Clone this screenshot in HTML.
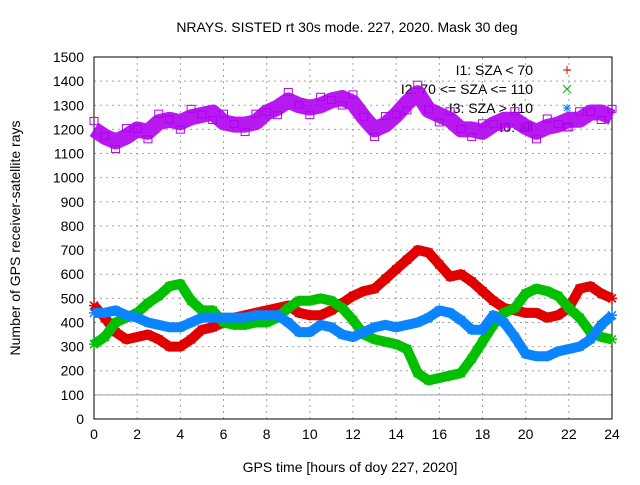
<!DOCTYPE html>
<html><head><meta charset="utf-8"><style>
body{margin:0;background:#fff}
svg{font-family:"Liberation Sans",sans-serif;font-size:14px}
</style></head><body>
<svg id="c" width="640" height="480">
<text x="347" y="32" text-anchor="middle">NRAYS. SISTED rt 30s mode. 227, 2020. Mask 30 deg</text>
<text x="350" y="472" text-anchor="middle">GPS time [hours of doy 227, 2020]</text>
<text x="20" y="238" text-anchor="middle" transform="rotate(-90 20 238)">Number of GPS receiver-satellite rays</text>
<g id="grid"></g><g id="axes"></g><g id="legend"></g><g id="marks"></g>
</svg>
<script>
const hours=[0,0.5,1,1.5,2,2.5,3,3.5,4,4.5,5,5.5,6,6.5,7,7.5,8,8.5,9,9.5,10,10.5,11,11.5,12,12.5,13,13.5,14,14.5,15,15.5,16,16.5,17,17.5,18,18.5,19,19.5,20,20.5,21,21.5,22,22.5,23,23.5,24];
const totalVals=[1200,1170,1150,1170,1200,1190,1230,1240,1230,1250,1260,1270,1230,1220,1220,1230,1270,1290,1320,1300,1290,1300,1320,1330,1310,1250,1200,1220,1260,1310,1350,1280,1260,1240,1200,1200,1190,1220,1240,1240,1210,1190,1210,1220,1240,1240,1270,1270,1250];
const redVals=[470,420,360,330,340,350,330,300,300,330,370,380,400,420,430,440,450,460,470,440,430,430,450,480,510,530,540,580,620,660,700,690,640,590,600,570,530,490,460,450,440,440,420,430,460,540,550,520,500];
const greenVals=[310,340,400,420,440,480,510,550,560,490,450,450,400,390,390,400,400,420,460,490,490,500,490,460,410,350,330,320,310,290,190,160,170,180,190,250,320,390,440,460,520,540,530,510,460,420,360,340,330];
const blueVals=[440,440,450,430,420,400,390,380,380,400,420,420,420,420,420,430,430,430,400,360,360,390,380,350,340,360,380,390,380,390,400,420,450,440,410,370,370,430,400,340,270,260,260,280,290,300,330,390,430];
const xTicks=[0,2,4,6,8,10,12,14,16,18,20,22,24];
const yTicks=[0,100,200,300,400,500,600,700,800,900,1000,1100,1200,1300,1400,1500];
const X0=94,X1=612,Y0=419,Y1=57;
const xs=h=>X0+(X1-X0)*h/24, ys=v=>Y0-(Y0-Y1)*v/1500;
const NS="http://www.w3.org/2000/svg";
function mk(p,t,a){const e=document.createElementNS(NS,t);for(const k in a)e.setAttribute(k,a[k]);p.appendChild(e);return e;}
const grid=document.getElementById('grid'),axes=document.getElementById('axes'),marks=document.getElementById('marks'),legend=document.getElementById('legend');
xTicks.forEach(t=>{const l=mk(grid,'line',{x1:xs(t),x2:xs(t),y1:Y0,y2:Y1,stroke:'#a0a0a0','stroke-dasharray':'2,4'});

const tx=mk(axes,'text',{x:xs(t),y:Y0+20,'text-anchor':'middle'});tx.textContent=t;
});
yTicks.forEach(t=>{const l=mk(grid,'line',{x1:X0,x2:X1,y1:ys(t),y2:ys(t),stroke:'#a0a0a0','stroke-dasharray':'2,4'});

const tx=mk(axes,'text',{x:X0-10,y:ys(t)+5,'text-anchor':'end'});tx.textContent=t;
});
const ref=mk(axes,'line',{x1:X0,x2:X1,y1:ys(100),y2:ys(100),stroke:'#a0a0a0'});

const fr=mk(axes,'rect',{x:X0,y:Y1,width:X1-X0,height:Y0-Y1,fill:'none',stroke:'#000'});

const leg=[['I1: SZA < 70','#e00000',70,'+'],['I2: 70 <= SZA <= 110','#00b000',89,'x'],['I3: SZA > 110','#0080ff',108,'*'],['I0: all','#b000f0',127,'s']];
leg.forEach(([t,c,y,s])=>{const tx=mk(legend,'text',{x:533,y:y+5,'text-anchor':'end'});tx.textContent=t;

const x=567;let d='';
if(s==='+')d=`M${x-4},${y}h8M${x},${y-4}v8`;else if(s==='x')d=`M${x-4},${y-4}l8,8M${x+4},${y-4}l-8,8`;
else if(s==='*')d=`M${x-4},${y}h8M${x},${y-4}v8M${x-3},${y-3}l6,6M${x+3},${y-3}l-6,6`;
if(s==='s'){const r=mk(legend,'rect',{x:x-4,y:y-4,width:8,height:8,fill:'none',stroke:c});}
else{const p=mk(legend,'path',{d:d,stroke:c,'stroke-width':1});}});
function series(vals,color,name,sym){
 const g=mk(marks,'g',{});
 const pts=hours.map((h,i)=>xs(h)+','+ys(vals[i])).join(' ');
 mk(g,'polyline',{points:pts,fill:'none',stroke:color,'stroke-width':sym==='sq'?16:10,'stroke-linejoin':'round',opacity:sym==='sq'?0.9:1});
 hours.forEach((h,i)=>{const x=xs(h),y=ys(vals[i]);
  if(sym==='sq'){const r=mk(g,'rect',{x:x-4,y:y-4+((i%3)-1)*8,width:8,height:7,fill:'none',stroke:color});}
  else{const r=mk(g,'path',{d:`M${x-5},${y}h10M${x},${y-5}v10M${x-4},${y-4}l8,8M${x+4},${y-4}l-8,8`,stroke:color,'stroke-width':1.5});}
 });}
series(redVals,'#e00000','series-i1','x');
series(greenVals,'#00c000','series-i2','x');
series(blueVals,'#0a84ff','series-i3','x');
series(totalVals,'#b000f0','series-i0','sq');
</script>
</body></html>
